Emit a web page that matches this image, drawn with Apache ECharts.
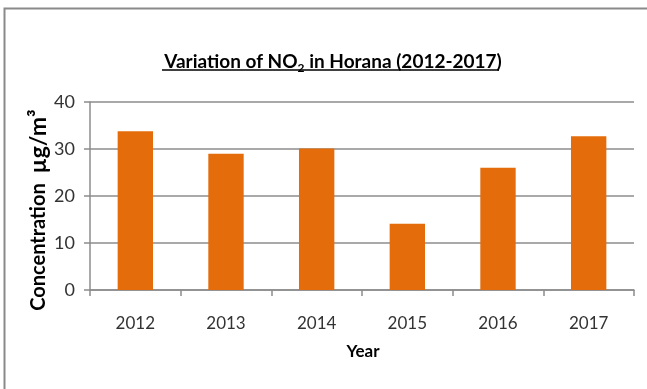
<!DOCTYPE html>
<html>
<head>
<meta charset="utf-8">
<title>Variation of NO2 in Horana (2012-2017)</title>
<script src="https://cdn.jsdelivr.net/npm/echarts@6/dist/echarts.min.js"></script>
<style>
  html, body { margin: 0; padding: 0; background: #fff; }
  #chart { width: 647px; height: 389px; }
</style>
</head>
<body>
<div id="chart"></div>
<script>
// Annual NO2 concentration at Horana, µg/m³
const years = ['2012', '2013', '2014', '2015', '2016', '2017'];
const no2Values = [33.8, 29.0, 30.1, 14.1, 26.0, 32.7];
const yTicks = { min: 0, max: 40, interval: 10 };

const FONT = 'Lato, "Liberation Sans", sans-serif';
const chart = echarts.init(document.getElementById('chart'), null, { renderer: 'canvas' });

chart.setOption({
  backgroundColor: '#ffffff',
  animation: false,
  title: {
    text: 'Variation of NO{sub|2} in Horana (2012-2017)',
    left: 328,
    textAlign: 'center',
    top: 45,
    textStyle: {
      fontFamily: FONT,
      fontWeight: 'bold',
      fontSize: 19,
      color: '#000',
      rich: {
        sub: { fontFamily: FONT, fontWeight: 'bold', fontSize: 12, color: '#000', padding: [12, 0, 0, 0] }
      }
    }
  },
  grid: { left: 90, right: 13, top: 102, bottom: 99, containLabel: false },
  xAxis: {
    type: 'category',
    data: years,
    axisLine: { lineStyle: { color: '#8c8c8c', width: 1.5 } },
    axisTick: { show: true, length: 6, lineStyle: { color: '#8c8c8c', width: 1.5 } },
    axisLabel: { margin: 25, fontFamily: FONT, fontSize: 17, color: '#333' }
  },
  yAxis: {
    type: 'value',
    min: yTicks.min,
    max: yTicks.max,
    interval: yTicks.interval,
    axisLine: { show: true, lineStyle: { color: '#8c8c8c', width: 1.5 } },
    axisTick: { show: true, length: 6, lineStyle: { color: '#8c8c8c', width: 1.5 } },
    axisLabel: { margin: 15, fontFamily: FONT, fontSize: 18, color: '#333' },
    splitLine: { show: true, lineStyle: { color: '#8c8c8c', width: 1.5 } }
  },
  series: [{
    type: 'bar',
    data: no2Values,
    barWidth: '39%',
    itemStyle: { color: '#E46C0A' }
  }],
  graphic: [
    // outer frame (top and left edges)
    { type: 'polyline', silent: true, shape: { points: [[4.5, 389], [4.5, 8.5], [647, 8.5]] },
      style: { stroke: '#8a8a8a', lineWidth: 2, fill: null } },
    // title underline
    { type: 'line', silent: true, shape: { x1: 162, y1: 70, x2: 499, y2: 70 },
      style: { stroke: '#000', lineWidth: 1.5 } },
    // y-axis name
    { type: 'text', silent: true, x: 39, y: 210, rotation: Math.PI / 2,
      style: {
        text: '{a|Concentration}  {b|µg/m³}',
        fontFamily: FONT, fontWeight: 'bold', fontSize: 20,
        fill: '#000', align: 'center', verticalAlign: 'middle',
        rich: {
          a: { fontFamily: FONT, fontWeight: 'bold', fontSize: 20, fill: '#000' },
          b: { fontFamily: FONT, fontWeight: 'bold', fontSize: 23, fill: '#000' }
        }
      } },
    // x-axis name
    { type: 'text', silent: true, x: 363, y: 352,
      style: { text: 'Year', fontFamily: FONT, fontWeight: 'bold', fontSize: 17,
               fill: '#000', align: 'center', verticalAlign: 'middle' } }
  ]
});
</script>
</body>
</html>
